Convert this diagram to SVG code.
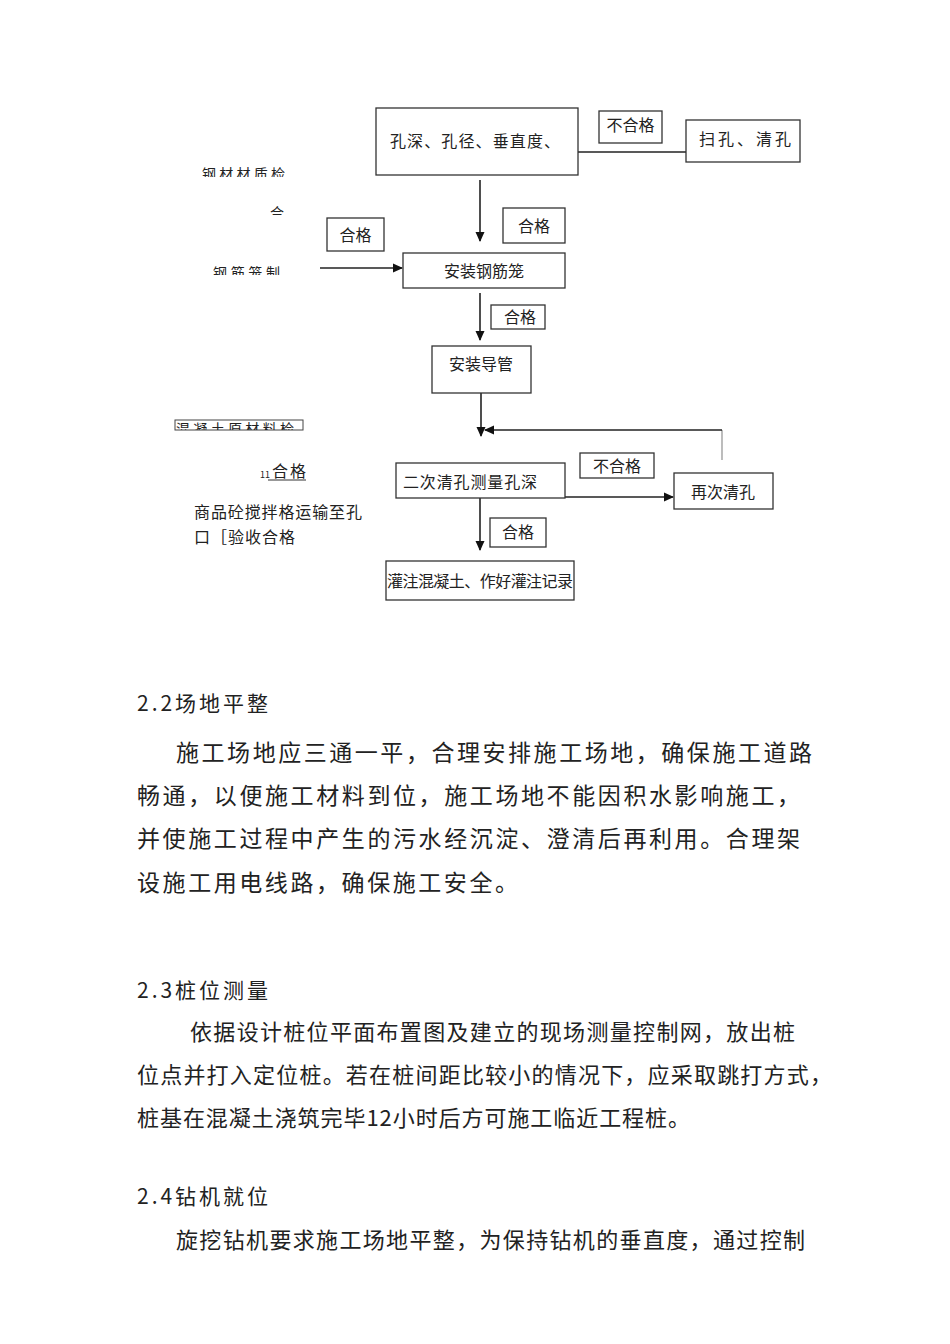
<svg xmlns="http://www.w3.org/2000/svg" width="950" height="1344" viewBox="0 0 950 1344">
<style>
text{font-family:"Noto Sans CJK SC","Noto Sans",sans-serif;fill:#222}
.box{fill:#fff;stroke:#333;stroke-width:1.3}
.ln{fill:none;stroke:#222;stroke-width:1.6}
.t15{font-size:16px}
.t14{font-size:14px}
.h{font-size:21px}
.p{font-size:23px}
.p2{font-size:22px}
</style>
<defs>
<marker id="ah" markerWidth="10" markerHeight="10" refX="9" refY="5" orient="auto" markerUnits="userSpaceOnUse">
<path d="M0,0.5 L10,5 L0,9.5 Z" fill="#111"/>
</marker>
<clipPath id="c1"><rect x="190" y="150" width="110" height="27"/></clipPath>
<clipPath id="c2"><rect x="260" y="195" width="30" height="20"/></clipPath>
<clipPath id="c3"><rect x="200" y="255" width="100" height="20"/></clipPath>
<clipPath id="c4"><rect x="175" y="420" width="128" height="10"/></clipPath>
</defs>

<g id="connectors">
<line class="ln" x1="578" y1="152" x2="686" y2="152"/>
<line class="ln" x1="480" y1="180" x2="480" y2="241" marker-end="url(#ah)"/>
<line class="ln" x1="320" y1="268" x2="402" y2="268" marker-end="url(#ah)"/>
<line class="ln" x1="480" y1="293" x2="480" y2="340" marker-end="url(#ah)"/>
<line class="ln" x1="481" y1="392" x2="481" y2="436" marker-end="url(#ah)"/>
<polyline fill="none" stroke="#999" stroke-width="1.3" points="722,460 722,430"/>
<polyline class="ln" points="722,430 485,430" marker-end="url(#ah)"/>
<line class="ln" x1="565" y1="497" x2="673" y2="497" marker-end="url(#ah)"/>
<line class="ln" x1="480" y1="498" x2="480" y2="550" marker-end="url(#ah)"/>
</g>

<g id="n-check">
<rect class="box" x="376" y="108" width="202" height="67"/>
<text class="t15" x="475" y="147" text-anchor="middle" textLength="170">孔深、孔径、垂直度、</text>
</g>
<g id="n-bhg1">
<rect class="box" x="599" y="111" width="63" height="32"/>
<text class="t15" x="630.5" y="131" text-anchor="middle">不合格</text>
</g>
<g id="n-sweep">
<rect class="box" x="686" y="120" width="114" height="42"/>
<text class="t15" x="745" y="145" text-anchor="middle" textLength="92">扫孔、清孔</text>
</g>
<g id="n-hg1">
<rect class="box" x="503" y="208" width="62" height="35"/>
<text class="t15" x="534" y="232" text-anchor="middle">合格</text>
</g>
<g id="n-hg2">
<rect class="box" x="327" y="218" width="57" height="33"/>
<text class="t15" x="355.5" y="241" text-anchor="middle">合格</text>
</g>
<g id="n-steel">
<text class="t14" x="202" y="179" clip-path="url(#c1)" textLength="83">钢材材质检</text>
<text class="t14" x="270" y="218" clip-path="url(#c2)">合</text>
<text class="t14" x="213" y="278" clip-path="url(#c3)" textLength="67">钢筋笼制</text>
</g>
<g id="n-cage">
<rect class="box" x="403" y="253" width="162" height="35"/>
<text class="t15" x="484" y="277" text-anchor="middle">安装钢筋笼</text>
</g>
<g id="n-hg3">
<rect class="box" x="491" y="305" width="54" height="24"/>
<text class="t15" x="520" y="323" text-anchor="middle">合格</text>
</g>
<g id="n-pipe">
<rect class="box" x="432" y="346" width="99" height="47"/>
<text class="t15" x="481" y="370" text-anchor="middle">安装导管</text>
</g>
<g id="n-concrete-mat">
<rect fill="none" stroke="#444" stroke-width="1" x="175" y="420" width="128" height="10"/>
<text class="t14" x="176" y="434" clip-path="url(#c4)" textLength="118">混凝土原材料检</text>
</g>
<g id="n-hg4">
<text x="260" y="478" style="font-size:9px">11</text>
<text class="t15" x="272" y="477" textLength="34">合格</text>
<line x1="268" y1="480" x2="306" y2="480" stroke="#333" stroke-width="1"/>
</g>
<g id="n-mix">
<text class="t15" x="194" y="518" textLength="168">商品砼搅拌格运输至孔</text>
<text class="t15" x="194" y="543" textLength="101">口［验收合格</text>
</g>
<g id="n-second">
<rect class="box" x="396" y="463" width="169" height="35"/>
<text class="t15" x="403" y="488" textLength="134">二次清孔测量孔深</text>
</g>
<g id="n-bhg2">
<rect class="box" x="580" y="453" width="74" height="25"/>
<text class="t15" x="617" y="472" text-anchor="middle">不合格</text>
</g>
<g id="n-reclean">
<rect class="box" x="674" y="473" width="99" height="36"/>
<text class="t15" x="723" y="498" text-anchor="middle">再次清孔</text>
</g>
<g id="n-hg5">
<rect class="box" x="490" y="518" width="56" height="29"/>
<text class="t15" x="518" y="538" text-anchor="middle">合格</text>
</g>
<g id="n-pour">
<rect class="box" x="386" y="561" width="188" height="39"/>
<text class="t15" x="387" y="587" textLength="186">灌注混凝土、作好灌注记录</text>
</g>

<g id="body">
<text class="h" x="137" y="711" textLength="131">2.2场地平整</text>
<text class="p" x="176" y="761" textLength="636">施工场地应三通一平，合理安排施工场地，确保施工道路</text>
<text class="p" x="137" y="804" textLength="663">畅通，以便施工材料到位，施工场地不能因积水影响施工，</text>
<text class="p" x="137" y="847" textLength="663">并使施工过程中产生的污水经沉淀、澄清后再利用。合理架</text>
<text class="p" x="137" y="891" textLength="381">设施工用电线路，确保施工安全。</text>
<text class="h" x="137" y="998" textLength="131">2.3桩位测量</text>
<text class="p2" x="190" y="1040" textLength="605">依据设计桩位平面布置图及建立的现场测量控制网，放出桩</text>
<text class="p2" x="137" y="1083" textLength="695">位点并打入定位桩。若在桩间距比较小的情况下，应采取跳打方式，</text>
<text class="p2" x="137" y="1126" textLength="553">桩基在混凝土浇筑完毕12小时后方可施工临近工程桩。</text>
<text class="h" x="137" y="1204" textLength="131">2.4钻机就位</text>
<text class="p2" x="176" y="1248" textLength="629">旋挖钻机要求施工场地平整，为保持钻机的垂直度，通过控制</text>
</g>
</svg>
